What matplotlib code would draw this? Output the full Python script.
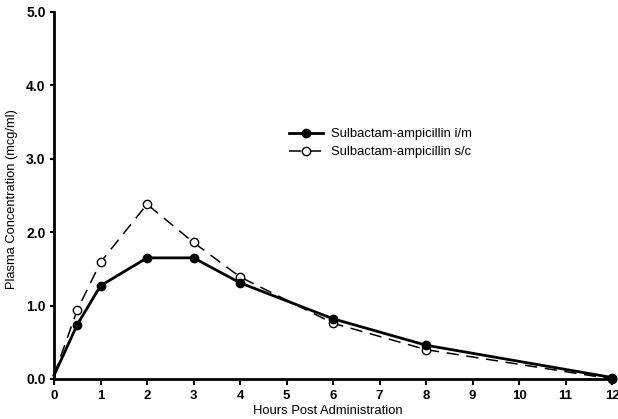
import matplotlib
matplotlib.use("Agg")
import matplotlib.pyplot as plt

hours = [0, 0.5, 1, 2, 3, 4, 6, 8, 12]
im_conc = [0.05, 0.74, 1.27, 1.65, 1.65, 1.31, 0.82, 0.46, 0.02]
sc_conc = [0.05, 0.94, 1.59, 2.38, 1.86, 1.39, 0.76, 0.40, 0.0]

x_ticks = list(range(0, 13))
y_ticks = [0, 1, 2, 3, 4, 5]
y_tick_labels = ["0.0", "1.0", "2.0", "3.0", "4.0", "5.0"]

plt.rcParams["font.family"] = ["Liberation Sans", "DejaVu Sans"]

fig = plt.figure(figsize=(6.18, 4.19), dpi=100)
ax = fig.add_axes([0.0874, 0.0955, 0.903, 0.876])

# no marker at time 0 in the original figure
ax.plot(hours, sc_conc, color="black", lw=1.1, ls=(0, (8, 5)), marker="o", ms=6,
        mfc="white", mec="black", mew=1, markevery=list(range(1, len(hours))),
        label="Sulbactam-ampicillin s/c", clip_on=False, zorder=3)
ax.plot(hours, im_conc, color="black", lw=2, marker="o", ms=6,
        mfc="black", mec="black", markevery=list(range(1, len(hours))),
        label="Sulbactam-ampicillin i/m", clip_on=False, zorder=4)

ax.set_xlim(0, 12)
ax.set_ylim(0, 5)
ax.set_xticks(x_ticks)
ax.set_yticks(y_ticks)
ax.set_yticklabels(y_tick_labels)

for side in ["top", "right"]:
    ax.spines[side].set_visible(False)
for side in ["left", "bottom"]:
    ax.spines[side].set_linewidth(2)

ax.tick_params(axis="x", direction="out", length=4, width=1.5, labelsize=9.5, pad=4)
ax.tick_params(axis="y", direction="out", length=3, width=1.5, labelsize=10, pad=3)
for lbl in ax.get_xticklabels() + ax.get_yticklabels():
    lbl.set_fontweight("bold")

ax.set_xlabel("Hours Post Administration", fontsize=9.4)
ax.xaxis.set_label_coords(0.49, -0.07)
ax.set_ylabel("Plasma Concentration (mcg/ml)", fontsize=9.3)
ax.yaxis.set_label_coords(-0.064, 0.49)

handles, labels = ax.get_legend_handles_labels()
ax.legend(handles[::-1], labels[::-1], loc="upper left", bbox_to_anchor=(0.40, 0.715),
          frameon=False, fontsize=9.4, handlelength=2.6, handletextpad=0.6,
          labelspacing=0.45)

fig.savefig("out.png", dpi=100)
